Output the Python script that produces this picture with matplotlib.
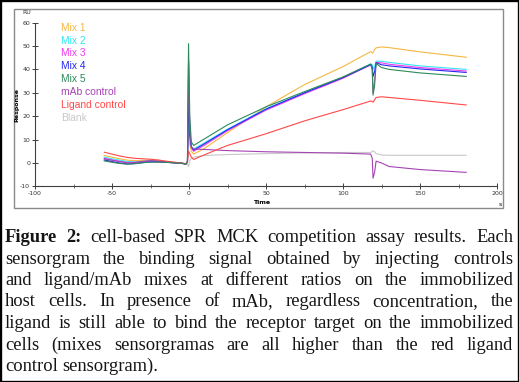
import numpy as np
import matplotlib.pyplot as plt
from matplotlib.patches import Rectangle

plt.rcParams['axes.unicode_minus'] = False

# sensorgram time points (s)
t = [-55, -50, -45, -40, -35, -30, -25, -20, -15, -10, -5, -2,
     -1, -0.3, 0.5, 1.5, 3, 10, 25, 50, 75, 100,
     118, 119, 119.5, 120.5, 121.5, 125, 130, 150, 180]

# responses (RU)
mix1 = [3.2, 2.5, 1.8, 1.2, 1.0, 1.1, 1.2, 0.9, 0.5, 0.2, -0.1, -0.4,
        0.5, 14, 8, 5, 3.8, 6.2, 13, 24, 33.5, 41.2,
        47.6, 47.0, 47.2, 48.5, 49.2, 49.6, 49.3, 47.5, 45.2]
mix2 = [2.5, 1.8, 1.2, 0.6, 0.5, 0.7, 0.9, 0.7, 0.4, 0.1, -0.1, -0.4,
        0.5, 22, 10, 7, 6, 8.6, 14.5, 23.2, 30, 36.5,
        42.3, 42, 40, 41, 43.5, 43.5, 43, 41.5, 40]
mix3 = [2.0, 1.3, 0.7, 0.2, 0.3, 0.6, 0.8, 0.6, 0.4, 0.1, -0.1, -0.4,
        0.5, 44, 15, 6.5, 5, 7.6, 13.8, 22.6, 29.6, 36.2,
        42, 40, 30, 35, 43, 42.8, 42.2, 40.8, 39.3]
mix4 = [1.3, 0.6, 0.0, -0.4, -0.2, 0.2, 0.5, 0.5, 0.3, 0.1, -0.1, -0.5,
        0.5, 27, 12, 7, 5.5, 8.2, 14.2, 23, 30, 36.5,
        42, 41, 37, 39, 42.8, 42, 41.5, 40.2, 38.7]
mix5 = [0.9, 0.3, -0.2, -0.5, -0.3, 0.1, 0.4, 0.4, 0.3, 0.1, -0.1, -0.5,
        0.5, 51, 20, 9, 7.5, 10.3, 16.3, 24, 30.5, 36.8,
        42.3, 40, 29, 33, 42.5, 40.8, 40, 38.5, 37]
mab = [1.8, 1.2, 0.6, 0.0, 0.2, 0.7, 1.0, 0.9, 0.6, 0.2, 0.0, -0.4,
       0.5, 43, 14, 7, 6, 5.8, 5.3, 4.8, 4.5, 4.2,
       3.8, 2, -6.5, -4, 0.8, 0, -1.5, -2.8, -4]
ligand = [4.6, 3.8, 3.0, 2.4, 2.0, 1.8, 1.6, 1.3, 0.8, 0.4, 0.0, -0.3,
          0.5, 5, 4, 2.5, 1.5, 3.5, 7.5, 12.5, 18, 22.8,
          26.5, 26.3, 26, 27, 28, 28.3, 28, 26.8, 24.8]
blank = [1.2, 1.0, 0.8, 0.6, 0.5, 0.5, 0.5, 0.4, 0.3, 0.1, 0.0, -0.3,
         -0.5, -1.5, 1, 2, 2.5, 3.2, 3.6, 4, 4.3, 4.5,
         4.5, 5, 5.2, 4.8, 4, 3.4, 3.3, 3.3, 3.3]

names = ['Mix 1', 'Mix 2', 'Mix 3', 'Mix 4', 'Mix 5', 'mAb control', 'Ligand control', 'Blank']
series = [mix1, mix2, mix3, mix4, mix5, mab, ligand, blank]
colors = ['#f5b840', '#33e6f0', '#f03cf0', '#2828f0', '#2e8a5a', '#a444b4', '#ff4848', '#c8c8c8']

W, H = 519, 382
fig = plt.figure(figsize=(W/100, H/100), dpi=100)
ax = fig.add_axes([35/W, 1-186.4/H, 462/W, 163.8/H])

draw_order = [7, 0, 1, 2, 3, 5, 6, 4]
for i in draw_order:
    ax.plot(t, series[i], color=colors[i], lw=0.8)

ax.set_xlim(-100, 200)
ax.set_ylim(-10, 60)
ax.set_xticks(np.arange(-100, 201, 50))
ax.set_xticks(np.arange(-75, 200, 50), minor=True)
ax.set_yticks(np.arange(-10, 61, 10))
for s in ['top', 'right']:
    ax.spines[s].set_visible(False)
for s in ['left', 'bottom']:
    ax.spines[s].set_color('#404040')
    ax.spines[s].set_linewidth(0.8)
ax.tick_params(which='major', direction='inout', length=4, width=0.7, color='#404040',
               labelsize=4.5, labelcolor='#333333', pad=1.5)
ax.tick_params(which='minor', direction='inout', length=3, width=0.6, color='#606060')

# legend as coloured text
leg_y = [28, 41, 53, 66, 79, 92, 105, 118]
for name, c, y in zip(names, colors, leg_y):
    fig.text(61/W, 1-y/H, name, color=c, fontsize=7.4, family='Liberation Sans', va='center')

fig.text(22/W, 1-13/H, 'RU', fontsize=4.5, color='#333333', va='center')
fig.text(17/W, 1-105/H, 'Response', fontsize=4.5, weight='bold', rotation=90, va='center', ha='center')
fig.text(262/W, 1-203/H, 'Time', fontsize=4.5, weight='bold', va='center', ha='center')
fig.text(500/W, 1-205/H, 's', fontsize=4.5, va='center', ha='center')

# inner chart frame and outer border
fig.add_artist(Rectangle((14/W, 1-208/H), 489/W, 199/H, transform=fig.transFigure,
                         fill=False, ec='#8a8a8a', lw=1))
fig.add_artist(Rectangle((0, 0), 1, 1, transform=fig.transFigure, fill=False, ec='black', lw=2.4))

# caption, fully justified
caption = [
    [('Figure', True), ('2:', True), ('cell-based', False), ('SPR', False), ('MCK', False),
     ('competition', False), ('assay', False), ('results.', False), ('Each', False)],
    'sensorgram the binding signal obtained by injecting controls',
    'and ligand/mAb mixes at different ratios on the immobilized',
    'host cells. In presence of mAb, regardless concentration, the',
    'ligand is still able to bind the receptor target on the immobilized',
    'cells (mixes sensorgramas are all higher than the red ligand',
    'control sensorgram).',
]
baselines = [242, 263.5, 285, 306.5, 328, 349.5, 371]
left_px, right_px = 5, 513

fig.canvas.draw()
renderer = fig.canvas.get_renderer()
for k, line in enumerate(caption):
    words = line if isinstance(line, list) else [(w, False) for w in line.split()]
    objs = []
    for w, bold in words:
        objs.append(fig.text(0, 1-baselines[k]/H, w, fontsize=13.3, family='Liberation Serif',
                             weight='bold' if bold else 'normal', color='#151515', va='baseline'))
    widths = [o.get_window_extent(renderer).width for o in objs]
    if k == len(caption) - 1:
        gap = 4.5
    else:
        gap = (right_px - left_px - sum(widths)) / (len(objs) - 1)
    x = left_px
    for o, wd in zip(objs, widths):
        o.set_x(x/W)
        x += wd + gap

fig.savefig('out.png', dpi=100)
